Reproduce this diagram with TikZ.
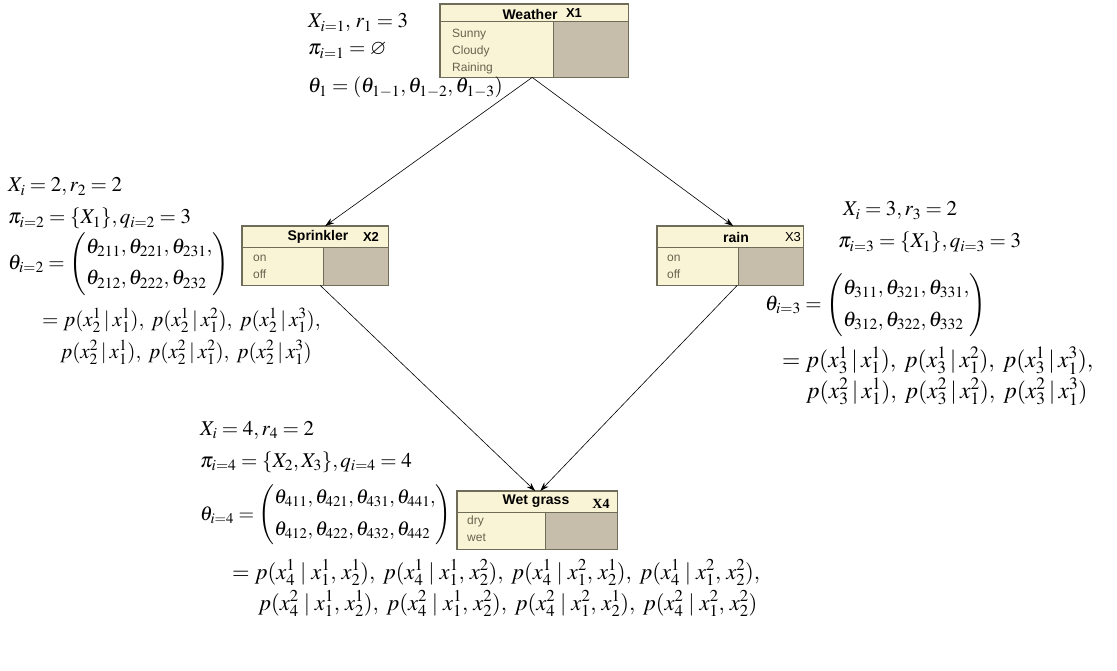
\documentclass[tikz,border=0pt]{standalone}
\usepackage{amsmath,amssymb}
\usepackage{mathptmx}
\usepackage[no-math]{fontspec}
\setmainfont{Liberation Serif}
\newfontfamily\boxfont{Liberation Sans}
\usepackage{xcolor}
\usepackage{tikz}
\usetikzlibrary{calc,arrows.meta,positioning}
\definecolor{bnCream}{RGB}{250,244,214}
\definecolor{bnPanel}{RGB}{198,190,171}
\definecolor{bnEdge}{RGB}{112,108,90}
\definecolor{bnState}{RGB}{105,98,80}

\begin{document}
\begin{tikzpicture}[x=1pt,y=-1pt,
    boxbody/.style={fill=bnCream, inner sep=0pt, anchor=north west},
    boxline/.style={draw=bnEdge, line width=1.5pt},
    thinline/.style={draw=bnEdge, line width=1pt},
    boxtitle/.style={font=\boxfont\bfseries\fontsize{14}{16}\selectfont, inner sep=0pt},
    boxid/.style={font=\boxfont\fontsize{13}{15}\selectfont, inner sep=0pt},
    states/.style={font=\boxfont\fontsize{12}{17}\selectfont, text=bnState, align=left, anchor=north west, inner sep=0pt},
    eq/.style={font=\fontsize{21}{25}\selectfont, anchor=base west, inner sep=0pt},
    eqm/.style={font=\fontsize{21}{25}\selectfont, anchor=west, inner sep=0pt},
    arc/.style={-{Stealth[length=9pt,width=6pt]}, line width=0.6pt}]
    \useasboundingbox (0,0) rectangle (1117,671);

    % network nodes
    \node[boxbody, minimum width=188pt, minimum height=73pt] (weather) at (440,4) {};
    \fill[bnPanel] ($(weather.north west)+(113,18)$) rectangle (weather.south east);
    \draw[thinline] ($(weather.north west)+(0,18)$) -- ($(weather.north east)+(0,18)$);
    \draw[thinline] ($(weather.north west)+(113,18)$) -- ($(weather.south west)+(113,0)$);
    \draw[boxline] (weather.north west) rectangle (weather.south east);
    \node[boxtitle] (weather-t) at ($(weather.north west)+(90,10)$) {Weather};
    \node[boxid, font=\boxfont\bfseries\fontsize{13}{15}\selectfont] (weather-x) at ($(weather.north west)+(134,9)$) {X1};
    \node[states] (weather-s) at ($(weather.north west)+(12,24.5)$) {Sunny\\Cloudy\\Raining};

    \node[boxbody, minimum width=146pt, minimum height=59pt] (sprinkler) at (242,226) {};
    \fill[bnPanel] ($(sprinkler.north west)+(81,22)$) rectangle (sprinkler.south east);
    \draw[thinline] ($(sprinkler.north west)+(0,22)$) -- ($(sprinkler.north east)+(0,22)$);
    \draw[thinline] ($(sprinkler.north west)+(81,22)$) -- ($(sprinkler.south west)+(81,0)$);
    \draw[boxline] (sprinkler.north west) rectangle (sprinkler.south east);
    \node[boxtitle] (sprinkler-t) at ($(sprinkler.north west)+(76,11)$) {Sprinkler};
    \node[boxid, font=\boxfont\bfseries\fontsize{13}{15}\selectfont] (sprinkler-x) at ($(sprinkler.north west)+(129,11)$) {X2};
    \node[states] (sprinkler-s) at ($(sprinkler.north west)+(11,29)$) {on\\off};

    \node[boxbody, minimum width=146pt, minimum height=59pt] (rain) at (657,226) {};
    \fill[bnPanel] ($(rain.north west)+(81,22)$) rectangle (rain.south east);
    \draw[thinline] ($(rain.north west)+(0,22)$) -- ($(rain.north east)+(0,22)$);
    \draw[thinline] ($(rain.north west)+(81,22)$) -- ($(rain.south west)+(81,0)$);
    \draw[boxline] (rain.north west) rectangle (rain.south east);
    \node[boxtitle] (rain-t) at ($(rain.north west)+(79,11)$) {rain};
    \node[boxid] (rain-x) at ($(rain.north west)+(136,11)$) {X3};
    \node[states] (rain-s) at ($(rain.north west)+(10,29)$) {on\\off};

    \node[boxbody, minimum width=160pt, minimum height=58pt] (wetgrass) at (457,491) {};
    \fill[bnPanel] ($(wetgrass.north west)+(88,21)$) rectangle (wetgrass.south east);
    \draw[thinline] ($(wetgrass.north west)+(0,21)$) -- ($(wetgrass.north east)+(0,21)$);
    \draw[thinline] ($(wetgrass.north west)+(88,21)$) -- ($(wetgrass.south west)+(88,0)$);
    \draw[boxline] (wetgrass.north west) rectangle (wetgrass.south east);
    \node[boxtitle] (wetgrass-t) at ($(wetgrass.north west)+(79,10.5)$) {Wet grass};
    \node[boxid, font=\bfseries\fontsize{14}{15}\selectfont] (wetgrass-x) at ($(wetgrass.north west)+(144,13)$) {X4};
    \node[states] (wetgrass-s) at ($(wetgrass.north west)+(10,25)$) {dry\\wet};

    % arcs
    \draw[arc] ([xshift=-2pt]weather.south) -- ([xshift=10pt]sprinkler.north);
    \draw[arc] ([xshift=-2pt]weather.south) -- ([xshift=3pt]rain.north);
    \draw[arc] ([xshift=5pt]sprinkler.south) -- ([xshift=-2pt]wetgrass.north);
    \draw[arc] ([xshift=7pt]rain.south) -- ([xshift=3pt]wetgrass.north);

    % parameters of X1
    \node[eq] (p1a) at (308,28) {$X_{i=1},\, r_1 = 3$};
    \node[eq] (p1b) at (308,55) {$\pi_{i=1} = \varnothing$};
    \node[eq] (p1c) at (308,93) {$\theta_1 = \left(\theta_{1-1}, \theta_{1-2}, \theta_{1-3}\right)$};

    % parameters of X2
    \node[eq] (p2a) at (8,192) {$X_i = 2, r_2 = 2$};
    \node[eq] (p2b) at (8,224) {$\pi_{i=2} = \{X_1\}, q_{i=2} = 3$};
    \node[eqm] (p2c) at (8,264) {$\theta_{i=2} = \left(\begin{array}{@{}l@{}}\theta_{211},\theta_{221},\theta_{231},\\[7pt]\theta_{212},\theta_{222},\theta_{232}\end{array}\right)$};
    \node[eq] (p2d) at (42,326) {$= p(x_2^1\:|\:x_1^1),\; p(x_2^1\:|\:x_1^2),\; p(x_2^1\:|\:x_1^3),$};
    \node[eq] (p2e) at (60,358) {$p(x_2^2\:|\:x_1^1),\; p(x_2^2\:|\:x_1^2),\; p(x_2^2\:|\:x_1^3)$};

    % parameters of X3
    \node[eq] (p3a) at (843,216) {$X_i = 3, r_3 = 2$};
    \node[eq] (p3b) at (838,248) {$\pi_{i=3} = \{X_1\}, q_{i=3} = 3$};
    \node[eqm] (p3c) at (765,305) {$\theta_{i=3} = \left(\begin{array}{@{}l@{}}\theta_{311},\theta_{321},\theta_{331},\\[7pt]\theta_{312},\theta_{322},\theta_{332}\end{array}\right)$};
    \node[eq, font=\fontsize{23.5}{26}\selectfont] (p3d) at (782,367) {$= p(x_3^1\:|\:x_1^1),\; p(x_3^1\:|\:x_1^2),\; p(x_3^1\:|\:x_1^3),$};
    \node[eq, font=\fontsize{23.5}{26}\selectfont] (p3e) at (806,398) {$p(x_3^2\:|\:x_1^1),\; p(x_3^2\:|\:x_1^2),\; p(x_3^2\:|\:x_1^3)$};

    % parameters of X4
    \node[eq] (p4a) at (200,435) {$X_i = 4, r_4 = 2$};
    \node[eq] (p4b) at (200,467) {$\pi_{i=4} = \{X_2, X_3\}, q_{i=4} = 4$};
    \node[eqm, font=\fontsize{20}{24}\selectfont] (p4c) at (200,515) {$\theta_{i=4} = \left(\begin{array}{@{}l@{}}\theta_{411},\theta_{421},\theta_{431},\theta_{441},\\[8pt]\theta_{412},\theta_{422},\theta_{432},\theta_{442}\end{array}\right)$};
    \node[eq, font=\fontsize{22.5}{26}\selectfont] (p4d) at (232,579) {$= p(x_4^1\;|\;x_1^1,\,x_2^1),\; p(x_4^1\;|\;x_1^1,\,x_2^2),\; p(x_4^1\;|\;x_1^2,\,x_2^1),\; p(x_4^1\;|\;x_1^2,\,x_2^2),$};
    \node[eq, font=\fontsize{22.5}{26}\selectfont] (p4e) at (258,610) {$p(x_4^2\;|\;x_1^1,\,x_2^1),\; p(x_4^2\;|\;x_1^1,\,x_2^2),\; p(x_4^2\;|\;x_1^2,\,x_2^1),\; p(x_4^2\;|\;x_1^2,\,x_2^2)$};
\end{tikzpicture}
\end{document}
